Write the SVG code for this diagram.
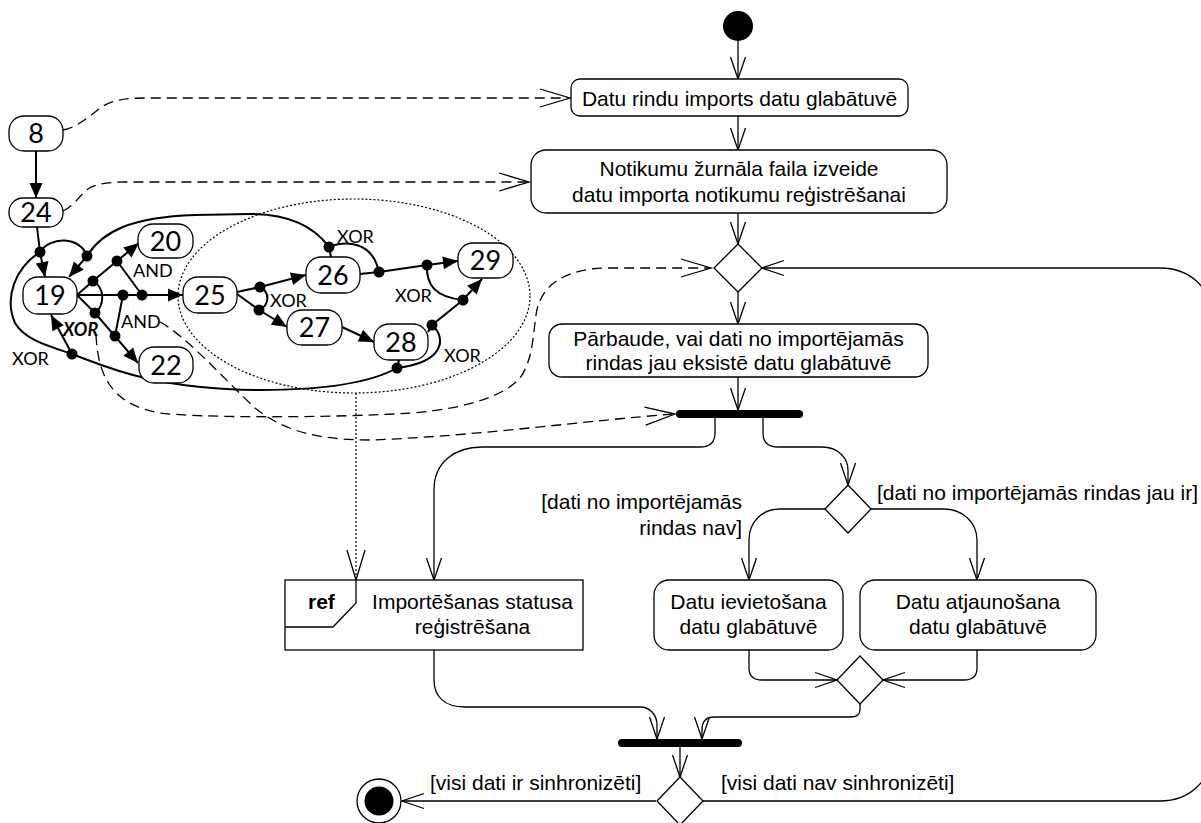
<svg xmlns="http://www.w3.org/2000/svg" width="1201" height="823" viewBox="0 0 1201 823">
<style>
.act{fill:#fff;stroke:#000;stroke-width:1.3}
.flow{fill:none;stroke:#000;stroke-width:1.3;marker-end:url(#open)}
.dash{fill:none;stroke:#000;stroke-width:1.3;stroke-dasharray:10 6;marker-end:url(#dopen)}
.dot2{fill:none;stroke:#000;stroke-width:1.2;stroke-dasharray:2 2}
.bar{fill:none;stroke:#000;stroke-width:8;stroke-linecap:round}
.t{font-family:"Liberation Sans",Arial,sans-serif;font-size:21px;fill:#000}
.tc{text-anchor:middle}
.pill{fill:#fff;stroke:#000;stroke-width:1.3}
.num{font-family:Lato,"Open Sans",sans-serif;font-size:27px;text-anchor:middle;fill:#000}
.g{fill:none;stroke:#000;stroke-width:2}
.ga{fill:none;stroke:#000;stroke-width:2;marker-end:url(#fill)}
.d{fill:#000}
.lbl{font-family:Lato,"Open Sans",sans-serif;font-size:18px;fill:#000}
</style>
<defs>
<marker id="open" markerUnits="userSpaceOnUse" markerWidth="26" markerHeight="20" viewBox="-24 -10 26 20" refX="0" refY="0" orient="auto" overflow="visible"><path d="M-22,-7.5 L0,0 L-22,7.5" fill="none" stroke="#000" stroke-width="1.3"/></marker>
<marker id="dopen" markerUnits="userSpaceOnUse" markerWidth="34" markerHeight="24" viewBox="-32 -12 34 24" refX="0" refY="0" orient="auto" overflow="visible"><path d="M-30,-9 L0,0 L-30,9" fill="none" stroke="#000" stroke-width="1.3"/></marker>
<marker id="fill" markerUnits="userSpaceOnUse" markerWidth="20" markerHeight="16" viewBox="-18 -8 20 16" refX="0" refY="0" orient="auto" overflow="visible"><path d="M-15,-6.5 L0,0 L-15,6.5 Z" fill="#000" stroke="none"/></marker>
</defs>

<g id="connectors">
<path class="flow" d="M738,41 L738,79"/>
<path class="flow" d="M738,116 L738,150"/>
<path class="flow" d="M738,213 L738,244"/>
<path class="flow" d="M738,292 L738,324"/>
<path class="flow" d="M738,377 L738,410"/>
<path class="flow" d="M715,418 L715,433 C715,442 711,447 700,447 L482,447 C455,447 434,462 434,490 L434,580"/>
<path class="flow" d="M763,418 L763,433 C763,442 767,447 778,447 L822,447 C838,447 848,458 848,470 L848,485"/>
<path class="flow" d="M825,509 L780,509 C762,509 749,522 749,540 L749,580"/>
<path class="flow" d="M871,509 L944,509 C962,509 977,522 977,540 L977,580"/>
<path class="flow" d="M749,650 L749,668 C749,676 754,680 762,680 L837,680"/>
<path class="flow" d="M977,650 L977,668 C977,676 972,680 964,680 L883,680"/>
<path class="flow" d="M860,704 L860,710 C860,715 856,717 850,717 L714,717 C706,717 702,722 702,730 L702,739"/>
<path class="flow" d="M434,650 L434,680 C434,697 445,707 465,707 L640,707 C650,707 657,715 657,725 L657,739"/>
<path class="flow" d="M680,747 L680,777"/>
<path class="flow" d="M656,801 L402,801"/>
<path class="flow" d="M703,801 L1160,801 C1190,801 1212,780 1212,750 L1212,318 C1212,288 1190,268 1160,268 L762,268"/>
<path class="dash" d="M63,130 C75,128 88,118 100,108 C112,100 125,98 145,98 L570,98"/>
<path class="dash" d="M63,211 C73,207 79,196 88,189 C96,184 108,182 125,182 L529,182"/>
<path class="dash" d="M96,335 C98,380 115,405 160,413 C200,418 330,418 413,413 C470,408 505,395 520,378 C533,360 533,335 536,315 C540,285 565,268 610,268 L711,268"/>
<path class="dash" d="M160,322 C185,335 225,380 255,408 C285,432 320,440 370,440 C480,436 590,420 675,414"/>
<path class="dot2" d="M356,393 L356,580" marker-end="url(#dopen)"/>
</g>

<g id="graph">
<ellipse class="dot2" cx="354" cy="296" rx="176" ry="97"/>
<path class="ga" d="M36,151 L36,198"/>
<path class="g" d="M37,227 L40,252"/>
<path class="ga" d="M40,252 L45,277"/>
<path class="g" d="M40,252 C50,236 80,236 87,256"/>
<path class="ga" d="M87,256 L69,277"/>
<path class="g" d="M87,256 C102,232 130,217 195,215 L250,214 C290,214 315,228 329,247"/>
<path class="g" d="M40,252 C15,268 4,298 15,323 C25,340 48,346 72,354 C105,366 150,389 260,390 C320,390 370,383 397,368"/>
<path class="ga" d="M72,354 L51,315"/>
<path class="g" d="M77,295 L93,281"/>
<path class="ga" d="M77,295 L183,295"/>
<path class="ga" d="M77,295 L95,313 L138,363"/>
<path class="g" d="M93,281 C105,288 105,305 95,313"/>
<path class="ga" d="M93,281 L117,261 L139,243"/>
<path class="g" d="M117,261 L142,295"/>
<path class="g" d="M123,295 L115,336"/>
<path class="ga" d="M237,292 L260,287 L306,275"/>
<path class="ga" d="M237,294 L259,310 L287,327"/>
<path class="g" d="M260,287 C270,292 270,305 259,310"/>
<path class="ga" d="M342,327 L374,342"/>
<path class="g" d="M360,274 L379,272"/>
<path class="ga" d="M379,272 L427,265 L458,261"/>
<path class="g" d="M329,247 L331,257"/>
<path class="g" d="M329,247 C345,241 372,240 379,272"/>
<path class="g" d="M427,265 C426,285 435,297 463,300"/>
<path class="ga" d="M432,325 L463,300 L482,279"/>
<path class="g" d="M428,332 L432,325"/>
<path class="g" d="M432,325 C446,337 446,362 397,368"/>
<path class="g" d="M397,368 L399,360"/>
<circle class="d" cx="40" cy="252" r="5.5"/>
<circle class="d" cx="87" cy="256" r="5.5"/>
<circle class="d" cx="93" cy="281" r="5.5"/>
<circle class="d" cx="117" cy="261" r="5.5"/>
<circle class="d" cx="123" cy="295" r="5.5"/>
<circle class="d" cx="142" cy="295" r="5.5"/>
<circle class="d" cx="95" cy="313" r="5.5"/>
<circle class="d" cx="115" cy="336" r="5.5"/>
<circle class="d" cx="72" cy="354" r="5.5"/>
<circle class="d" cx="260" cy="287" r="5.5"/>
<circle class="d" cx="259" cy="310" r="5.5"/>
<circle class="d" cx="329" cy="247" r="5.5"/>
<circle class="d" cx="379" cy="272" r="5.5"/>
<circle class="d" cx="427" cy="265" r="5.5"/>
<circle class="d" cx="463" cy="300" r="5.5"/>
<circle class="d" cx="432" cy="325" r="5.5"/>
<circle class="d" cx="397" cy="368" r="5.5"/>
<text class="lbl" x="133" y="277">AND</text>
<text class="lbl" x="121" y="328">AND</text>
<text class="lbl" x="63" y="336" font-weight="bold" font-style="italic">XOR</text>
<text class="lbl" x="12" y="365">XOR</text>
<text class="lbl" x="270" y="307">XOR</text>
<text class="lbl" x="337" y="243">XOR</text>
<text class="lbl" x="395" y="302">XOR</text>
<text class="lbl" x="444" y="362">XOR</text>
</g>

<g id="n8"><rect class="pill" x="9" y="116" width="54" height="35" rx="15"/><text class="num" x="36" y="143">8</text></g>
<g id="n24"><rect class="pill" x="9" y="198" width="54" height="29" rx="14"/><text class="num" x="36" y="222">24</text></g>
<g id="n19"><rect class="pill" x="23" y="277" width="54" height="37" rx="15"/><text class="num" x="50" y="305">19</text></g>
<g id="n20"><rect class="pill" x="138" y="224" width="55" height="34" rx="15"/><text class="num" x="165.5" y="251">20</text></g>
<g id="n22"><rect class="pill" x="139" y="347" width="54" height="36" rx="15"/><text class="num" x="166" y="375">22</text></g>
<g id="n25"><rect class="pill" x="183" y="277" width="54" height="36" rx="15"/><text class="num" x="210" y="305">25</text></g>
<g id="n26"><rect class="pill" x="306" y="257" width="54" height="36" rx="15"/><text class="num" x="333" y="285">26</text></g>
<g id="n27"><rect class="pill" x="287" y="310" width="55" height="35" rx="15"/><text class="num" x="314.5" y="337">27</text></g>
<g id="n28"><rect class="pill" x="374" y="324" width="54" height="36" rx="15"/><text class="num" x="401" y="352">28</text></g>
<g id="n29"><rect class="pill" x="458" y="243" width="55" height="35" rx="15"/><text class="num" x="485.5" y="270">29</text></g>

<g id="start"><circle cx="738" cy="26" r="15" fill="#000"/></g>
<g id="a1"><rect class="act" x="571" y="79" width="337" height="37" rx="9"/><text class="t tc" x="739.5" y="105.5">Datu rindu imports datu glabātuvē</text></g>
<g id="a2"><rect class="act" x="531" y="150" width="416" height="63" rx="15"/><text class="t tc" x="739" y="176">Notikumu žurnāla faila izveide</text><text class="t tc" x="739" y="202">datu importa notikumu reģistrēšanai</text></g>
<g id="dec1"><polygon class="act" points="738,244 762,268 738,292 714,268"/></g>
<g id="a3"><rect class="act" x="549" y="324" width="379" height="53" rx="13"/><text class="t tc" x="738.5" y="345.5">Pārbaude, vai dati no importējamās</text><text class="t tc" x="738.5" y="369.5">rindas jau eksistē datu glabātuvē</text></g>
<g id="fork1"><path class="bar" d="M680,414 L799,414"/></g>
<g id="ref"><rect class="act" x="285" y="580" width="298" height="70"/><path d="M356,580 L356,603 L333,627 L285,627" fill="none" stroke="#000" stroke-width="1.3"/><text class="t" x="308" y="609" font-weight="bold">ref</text><text class="t tc" x="472.5" y="609">Importēšanas statusa</text><text class="t tc" x="472.5" y="634">reģistrēšana</text></g>
<g id="dec2"><polygon class="act" points="848,485 871,509 848,533 825,509"/></g>
<g id="g1"><text class="t" x="877" y="500">[dati no importējamās rindas jau ir]</text></g>
<g id="g2"><text class="t" x="742" y="509" text-anchor="end">[dati no importējamās</text><text class="t" x="742" y="535" text-anchor="end">rindas nav]</text></g>
<g id="a4"><rect class="act" x="654" y="580" width="189" height="70" rx="15"/><text class="t tc" x="748.5" y="609">Datu ievietošana</text><text class="t tc" x="748.5" y="634">datu glabātuvē</text></g>
<g id="a5"><rect class="act" x="860" y="580" width="236" height="70" rx="15"/><text class="t tc" x="978" y="609">Datu atjaunošana</text><text class="t tc" x="978" y="634">datu glabātuvē</text></g>
<g id="merge"><polygon class="act" points="860,656 883,680 860,704 837,680"/></g>
<g id="join"><path class="bar" d="M622,743 L738,743"/></g>
<g id="dec3"><polygon class="act" points="680,777 703,801 680,825 657,801"/></g>
<g id="g3"><text class="t" x="430" y="790">[visi dati ir sinhronizēti]</text></g>
<g id="g4"><text class="t" x="721" y="790">[visi dati nav sinhronizēti]</text></g>
<g id="end"><circle cx="379" cy="801" r="22" fill="#fff" stroke="#000" stroke-width="1.3"/><circle cx="379" cy="801" r="14.5" fill="#000"/></g>
</svg>
